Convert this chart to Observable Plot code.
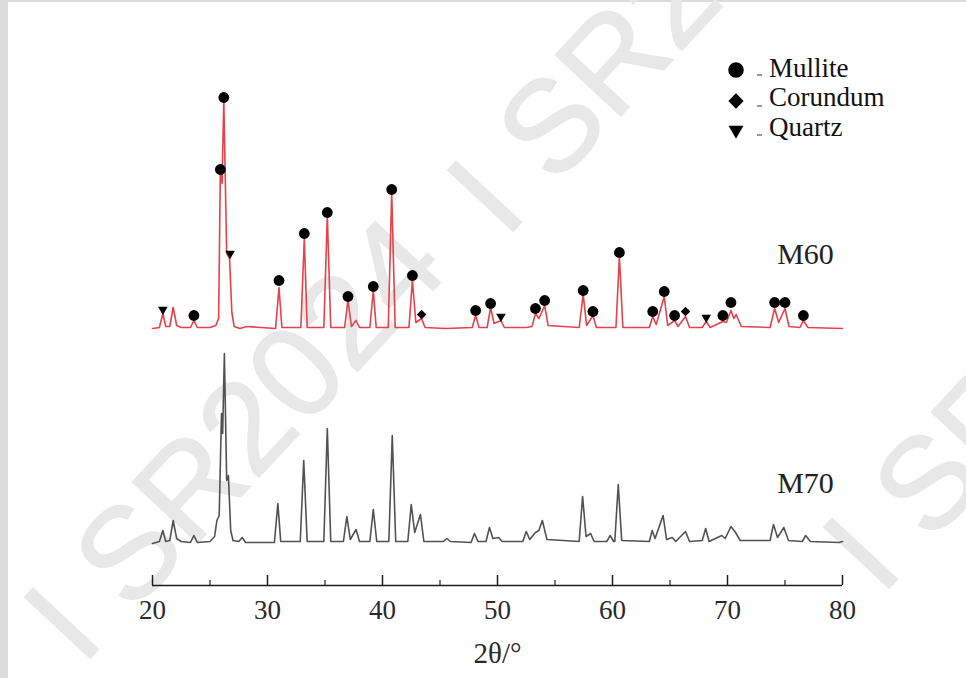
<!DOCTYPE html>
<html>
<head>
<meta charset="utf-8">
<script src="https://cdn.jsdelivr.net/npm/d3@7"></script>
<script src="https://cdn.jsdelivr.net/npm/@observablehq/plot@0.6"></script>
<style>
html,body{margin:0;padding:0;background:#fff;}
#wrap{position:relative;width:966px;height:678px;background:#dcdcdc;overflow:hidden;font-family:"Liberation Serif",serif;}
#panel{position:absolute;left:8px;top:2px;right:0;bottom:0;background:#fff;}
#wm,#chart,#legend{position:absolute;left:0;top:0;}
</style>
</head>
<body>
<div id="wrap"><div id="panel"></div><div id="wm"></div><div id="chart"></div><div id="legend"></div></div>
<script>
// ---- data (2θ in degrees, intensity in arbitrary units) ----
const m60 = [[20.0,255],[20.6,256],[20.9,270],[21.15,257],[21.5,257],[21.8,276],[22.1,258],[22.5,256],[23.3,256],[23.6,263],[23.9,256],
[25.0,256],[25.5,258],[25.75,265],[25.9,413],[26.05,400],[26.2,483],[26.45,330],[26.7,325],[26.9,271],[27.1,257],[27.6,255],[28.2,257],
[30.7,255],[31.0,296],[31.25,256],[32.9,256],[33.2,345],[33.45,256],[34.9,256],[35.2,368],[35.5,256],[36.7,256],[37.0,283],[37.3,257],
[37.7,263],[38.0,256],[38.9,256],[39.2,293],[39.45,256],[40.5,256],[40.8,391],[41.1,256],[42.3,256],[42.6,303],[42.9,261],[43.4,265],
[43.7,256],[45.5,255],[47.8,256],[48.1,268],[48.4,256],[49.1,256],[49.4,276],[49.7,260],[50.3,263],[50.6,256],[52.5,256],[53.0,257],
[53.3,270],[53.6,265],[54.1,278],[54.4,258],[57.1,256],[57.45,289],[57.75,258],[58.3,268],[58.6,256],[60.3,256],[60.6,327],[60.9,256],
[63.2,256],[63.5,267],[63.8,259],[64.5,287],[64.8,258],[65.4,263],[65.7,257],[66.35,267],[66.7,256],[67.8,256],[68.15,262],[68.5,256],
[69.6,262],[69.9,261],[70.3,273],[70.55,265],[70.75,269],[71.2,257],[73.7,256],[74.1,275],[74.45,261],[75.0,275],[75.35,257],[76.3,256],
[76.6,263],[77.0,256],[80.0,255]];

const m70 = [[20.0,40],[20.6,42],[20.9,53],[21.15,42],[21.5,43],[21.8,63],[22.1,45],[22.5,42],[23.3,41],[23.6,48],[23.9,41],[25.0,42],
[25.4,47],[25.6,63],[25.8,68],[26.0,170],[26.1,150],[26.25,230],[26.45,103],[26.6,108],[26.8,53],[27.0,43],[27.5,42],[27.8,46],[28.1,41],
[30.6,41],[30.9,80],[31.15,42],[32.85,42],[33.15,123],[33.45,42],[34.9,42],[35.2,155],[35.5,42],[36.6,42],[36.9,67],[37.2,44],[37.7,54],
[38.0,42],[38.9,42],[39.2,74],[39.5,42],[40.55,42],[40.85,148],[41.15,42],[42.2,42],[42.5,79],[42.8,51],[43.3,69],[43.6,42],[45.3,42],
[45.6,45],[45.9,42],[47.7,41],[48.0,50],[48.3,42],[49.0,42],[49.3,56],[49.6,45],[50.1,46],[50.4,42],[52.2,42],[52.5,52],[52.8,44],
[53.3,51],[53.6,53],[53.9,63],[54.3,44],[57.1,42],[57.4,87],[57.7,47],[58.1,50],[58.4,42],[59.5,42],[59.8,48],[60.1,42],[60.2,42],
[60.5,99],[60.8,43],[63.2,42],[63.45,53],[63.7,45],[64.4,68],[64.7,44],[65.2,46],[65.5,42],[66.35,52],[66.7,42],[67.8,43],[68.1,55],
[68.4,42],[69.5,48],[69.8,45],[70.3,57],[70.7,51],[71.1,43],[73.7,43],[74.0,59],[74.35,46],[74.9,56],[75.3,43],[76.5,42],[76.8,48],
[77.2,42],[79.7,41],[80.0,42]];

const mulliteMarks = [[23.6,268],[25.9,414],[26.2,486],[31.0,303],[33.2,350],[35.2,371],[37.0,287],[39.2,297],[40.8,394],[42.6,308],
[48.1,273],[49.4,280],[53.3,275],[54.1,283],[57.45,293],[58.3,272],[60.6,331],[63.5,272],[64.5,292],[65.4,268],[69.6,268],[70.3,281],
[74.1,281],[75.0,281],[76.6,268]];
const corundumMarks = [[43.4,269],[66.35,272]];
const quartzMarks = [[20.9,274],[26.75,330],[50.3,267],[68.15,266]];

const seriesNames = ["M60","M70"];
const phaseNames = ["Mullite","Corundum","Quartz"];
const majorTicks = [20,30,40,50,60,70,80];
const minorTicks = [25,35,45,55,65,75];
const xLabel = "2θ/°";
const watermarkText = "I SR2024";

// ---- build rows ----
const toRows = arr => arr.map(([theta, counts]) => ({theta, counts}));
const m60Rows = toRows(m60), m70Rows = toRows(m70);
const mulRows = toRows(mulliteMarks), corRows = toRows(corundumMarks), quaRows = toRows(quartzMarks);

const xDomain = [20, 80];
const yDomain = [-2, 498];
const RED = "#e5424a", GRAY = "#525252", INK = "#1e1e1e";

// ---- watermark (background) ----
const wm = d3.select("#wm").append("svg").attr("width", 966).attr("height", 678);
const wmPos = [[505,240],[82,667],[881,597]];
wm.selectAll("text").data(wmPos).join("text")
  .attr("transform", d => `translate(${d[0]},${d[1]}) rotate(-47)`)
  .attr("font-family", "Liberation Sans, sans-serif")
  .attr("font-size", 130)
  .attr("fill", "#e8e8e8").attr("stroke", "#e8e8e8").attr("stroke-width", 1.5)
  .text(watermarkText);

// ---- chart ----
const chart = Plot.plot({
  width: 966, height: 678,
  marginLeft: 152, marginRight: 124, marginTop: 85, marginBottom: 93,
  style: {background: "transparent", fontFamily: "Liberation Serif, serif", color: INK},
  x: {domain: xDomain},
  y: {domain: yDomain, axis: null},
  marks: [
    Plot.ruleY([yDomain[0]], {stroke: INK, strokeWidth: 1.6}),
    Plot.ruleX(majorTicks, {stroke: INK, strokeWidth: 1.5, insetTop: 490}),
    Plot.ruleX(minorTicks, {stroke: INK, strokeWidth: 1.2, insetTop: 495}),
    Plot.axisX(majorTicks, {tickSize: 0, tickPadding: 14, fontSize: 27, label: null, tickFormat: d => String(d), fill: "#2a2a2a"}),
    Plot.text([xLabel], {frameAnchor: "bottom", dy: 77, lineAnchor: "bottom", fontSize: 29, fill: "#2a2a2a"}),
    Plot.line(m70Rows, {x: "theta", y: "counts", stroke: GRAY, strokeWidth: 1.6}),
    Plot.line(m60Rows, {x: "theta", y: "counts", stroke: RED, strokeWidth: 1.6}),
    Plot.dot(mulRows, {x: "theta", y: "counts", symbol: "circle", r: 5.4, fill: "#000"}),
    Plot.dot(corRows, {x: "theta", y: "counts", symbol: "diamond2", r: 4.3, fill: "#000"}),
    Plot.dot(quaRows, {x: "theta", y: "counts", symbol: "triangle2", r: 4.6, rotate: 180, fill: "#000"}),
    Plot.text(m60Rows, Plot.selectLast({x: "theta", y: "counts", text: () => seriesNames[0], dx: -37, dy: -65, lineAnchor: "bottom", fontSize: 30, fill: "#222"})),
    Plot.text(m70Rows, Plot.selectLast({x: "theta", y: "counts", text: () => seriesNames[1], dx: -37, dy: -49, lineAnchor: "bottom", fontSize: 30, fill: "#222"}))
  ]
});
document.getElementById("chart").appendChild(chart);

// ---- legend (top right) ----
const lg = d3.select("#legend").append("svg").attr("width", 966).attr("height", 678)
  .style("font-family", "Liberation Serif, serif");
lg.append("rect").attr("x", 722).attr("y", 50).attr("width", 166).attr("height", 104).attr("fill", "#fff");
const symbols = [d3.symbol(d3.symbolCircle, 190), d3.symbol(d3.symbolDiamond2, 150), d3.symbol(d3.symbolTriangle2, 160)];
const rowY = [70, 101, 130];
const g = lg.selectAll("g.item").data(phaseNames).join("g").attr("class", "item")
  .attr("transform", (d, i) => `translate(736,${rowY[i]})`);
g.append("path").attr("d", (d, i) => symbols[i]()).attr("fill", "#000")
  .attr("transform", (d, i) => i === 2 ? "rotate(180)" : null);
g.append("line").attr("x1", 21).attr("x2", 26).attr("y1", 5).attr("y2", 5).attr("stroke", "#777").attr("stroke-width", 1.5);
g.append("text").attr("x", 33).attr("y", (d, i) => [7, 5, 6][i]).attr("font-size", 27).attr("fill", "#111").text(d => d);
</script>
</body>
</html>
